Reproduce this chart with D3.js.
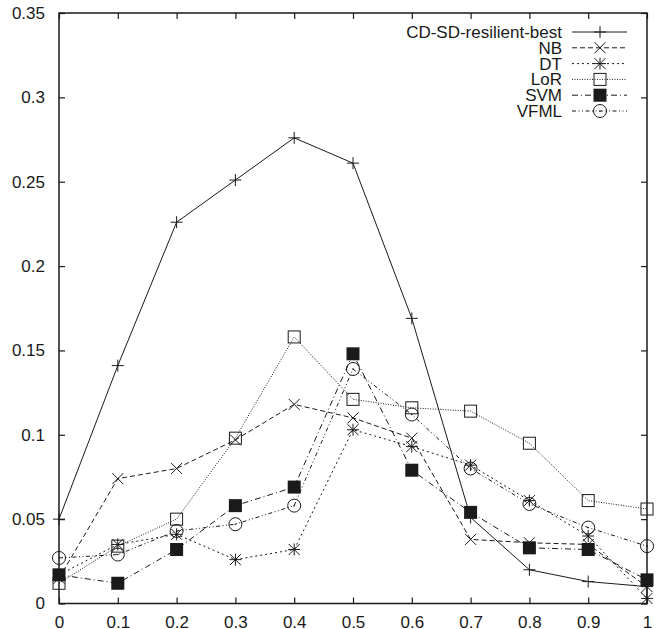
<!DOCTYPE html>
<html>
<head>
<meta charset="utf-8">
<script src="https://cdn.jsdelivr.net/npm/d3@7"></script>
<style>
  body { margin: 0; background: #fff; }
  text { font-family: "Liberation Sans", Arial, sans-serif; fill: #1a1a1a; }
</style>
</head>
<body>
<div id="chart"></div>
<script>
// values
const xs = [0, 0.1, 0.2, 0.3, 0.4, 0.5, 0.6, 0.7, 0.8, 0.9, 1];
const cdsd = [0.050, 0.141, 0.226, 0.251, 0.276, 0.261, 0.169, 0.051, 0.020, 0.013, 0.010];
const nb   = [0.015, 0.074, 0.080, 0.097, 0.118, 0.110, 0.098, 0.038, 0.036, 0.035, 0.010];
const dt   = [0.017, 0.035, 0.041, 0.026, 0.032, 0.103, 0.093, 0.082, 0.061, 0.040, 0.003];
const lor  = [0.012, 0.034, 0.050, 0.098, 0.158, 0.121, 0.116, 0.114, 0.095, 0.061, 0.056];
const svm  = [0.017, 0.012, 0.032, 0.058, 0.069, 0.148, 0.079, 0.054, 0.033, 0.032, 0.014];
const vfml = [0.027, 0.029, 0.043, 0.047, 0.058, 0.139, 0.112, 0.080, 0.059, 0.045, 0.034];

const xTicks = [0, 0.1, 0.2, 0.3, 0.4, 0.5, 0.6, 0.7, 0.8, 0.9, 1];
const xTickLabels = ["0", "0.1", "0.2", "0.3", "0.4", "0.5", "0.6", "0.7", "0.8", "0.9", "1"];
const yTicks = [0, 0.05, 0.1, 0.15, 0.2, 0.25, 0.3, 0.35];
const yTickLabels = ["0", "0.05", "0.1", "0.15", "0.2", "0.25", "0.3", "0.35"];

const seriesNames = ["CD-SD-resilient-best", "NB", "DT", "LoR", "SVM", "VFML"];
const seriesValues = [cdsd, nb, dt, lor, svm, vfml];

// line style + marker for each series (gnuplot look)
const styles = [
  { dash: null,            marker: "plus" },
  { dash: "5,3",           marker: "cross" },
  { dash: "2,3",           marker: "star" },
  { dash: "1,1.5",         marker: "square" },
  { dash: "6,3,1,3",       marker: "filled" },
  { dash: "4,2.5,1,2.5,1,2.5", marker: "circle" }
];

const W = 663, H = 629;
const margin = { top: 13, right: 16, bottom: 25.5, left: 59 };
const width = W - margin.left - margin.right;
const height = H - margin.top - margin.bottom;

const svg = d3.select("#chart").append("svg")
    .attr("width", W)
    .attr("height", H)
  .append("g")
    .attr("transform", `translate(${margin.left},${margin.top})`);

const x = d3.scaleLinear().domain([0, 1]).range([0, width]);
const y = d3.scaleLinear().domain([0, 0.35]).range([height, 0]);

const ink = "#1a1a1a";
const tick = 6;

// axes, ticks pointing inward, mirrored on top/right
const gx = svg.append("g")
    .attr("transform", `translate(0,${height})`)
    .call(d3.axisBottom(x).tickValues(xTicks).tickSize(-tick).tickPadding(12)
      .tickFormat((d, i) => xTickLabels[i]));
const gy = svg.append("g")
    .call(d3.axisLeft(y).tickValues(yTicks).tickSize(-tick).tickPadding(14)
      .tickFormat((d, i) => yTickLabels[i]));
const gt = svg.append("g")
    .call(d3.axisTop(x).tickValues(xTicks).tickSize(-tick).tickFormat(""));
const gr = svg.append("g")
    .attr("transform", `translate(${width},0)`)
    .call(d3.axisRight(y).tickValues(yTicks).tickSize(-tick).tickFormat(""));

[gx, gy, gt, gr].forEach(g => {
  g.select(".domain").remove();
  g.selectAll("line").attr("stroke", ink).attr("stroke-width", 1.2);
  g.selectAll("text").style("font-size", "17px").attr("fill", ink);
});

// frame
svg.append("rect")
    .attr("width", width)
    .attr("height", height)
    .attr("fill", "none")
    .attr("stroke", ink)
    .attr("stroke-width", 1.5);

function drawMarker(g, type, cx, cy) {
  const s = 6;
  if (type === "plus") {
    g.append("path").attr("d", `M${cx - s},${cy}H${cx + s}M${cx},${cy - s}V${cy + s}`)
      .attr("stroke", ink).attr("stroke-width", 1);
  } else if (type === "cross") {
    const k = 5.5;
    g.append("path").attr("d", `M${cx - k},${cy - k}L${cx + k},${cy + k}M${cx - k},${cy + k}L${cx + k},${cy - k}`)
      .attr("stroke", ink).attr("stroke-width", 1);
  } else if (type === "star") {
    const k = 5.5;
    g.append("path").attr("d",
        `M${cx - k},${cy - k}L${cx + k},${cy + k}M${cx - k},${cy + k}L${cx + k},${cy - k}` +
        `M${cx - s},${cy}H${cx + s}M${cx},${cy - s}V${cy + s}`)
      .attr("stroke", ink).attr("stroke-width", 1);
  } else if (type === "square") {
    g.append("rect").attr("x", cx - 6).attr("y", cy - 6).attr("width", 12).attr("height", 12)
      .attr("fill", "none").attr("stroke", ink).attr("stroke-width", 1);
  } else if (type === "filled") {
    g.append("rect").attr("x", cx - 6.5).attr("y", cy - 6.5).attr("width", 13).attr("height", 13)
      .attr("fill", ink);
  } else if (type === "circle") {
    g.append("circle").attr("cx", cx).attr("cy", cy).attr("r", 6.5)
      .attr("fill", "none").attr("stroke", ink).attr("stroke-width", 1);
    g.append("circle").attr("cx", cx).attr("cy", cy).attr("r", 0.8).attr("fill", ink);
  }
}

const line = d3.line()
    .x((d, i) => x(xs[i]))
    .y(d => y(d));

seriesValues.forEach((vals, k) => {
  const g = svg.append("g");
  g.append("path")
      .attr("d", line(vals))
      .attr("fill", "none")
      .attr("stroke", ink)
      .attr("stroke-width", 1)
      .attr("stroke-dasharray", styles[k].dash);
  vals.forEach((v, i) => drawMarker(g, styles[k].marker, x(xs[i]), y(v)));
});

// legend
const legend = svg.append("g");
seriesNames.forEach((name, k) => {
  const ly = 19 + k * 15.8;
  legend.append("text")
      .attr("x", 503)
      .attr("y", ly)
      .attr("dy", "0.35em")
      .attr("text-anchor", "end")
      .style("font-size", "17px")
      .attr("fill", ink)
      .text(name);
  legend.append("line")
      .attr("x1", 513).attr("x2", 568)
      .attr("y1", ly).attr("y2", ly)
      .attr("stroke", ink)
      .attr("stroke-width", 1)
      .attr("stroke-dasharray", styles[k].dash);
  drawMarker(legend, styles[k].marker, 541, ly);
});
</script>
</body>
</html>
